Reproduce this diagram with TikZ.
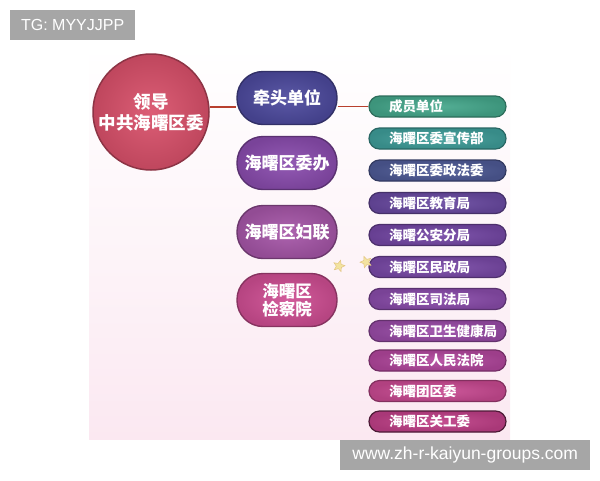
\documentclass[tikz,border=0pt]{standalone}
\usepackage{fontspec}
\setmainfont{Liberation Sans}
\newfontfamily\cjk{Noto Sans CJK SC}
\usetikzlibrary{shapes.geometric}
\definecolor{cCircle}{HTML}{D9506A}
\definecolor{cLead}{HTML}{4D4A9E}
\definecolor{cOffice}{HTML}{8A4CAE}
\definecolor{cWomen}{HTML}{A656A8}
\definecolor{cProc}{HTML}{CF4E93}
\definecolor{cLine}{HTML}{B8402E}
\definecolor{cPanel}{HTML}{FBE8F1}
\definecolor{cGrey}{HTML}{A6A6A6}
\definecolor{rA}{HTML}{45A88C}
\definecolor{rB}{HTML}{3F9E9A}
\definecolor{rC}{HTML}{4E5A96}
\definecolor{rD}{HTML}{6A4AA2}
\definecolor{rE}{HTML}{7548A6}
\definecolor{rF}{HTML}{7A4AA8}
\definecolor{rG}{HTML}{8A4CAB}
\definecolor{rH}{HTML}{9A4CA8}
\definecolor{rI}{HTML}{B2479D}
\definecolor{rJ}{HTML}{C94A92}
\definecolor{rK}{HTML}{C04088}
\definecolor{cStar}{HTML}{F3E3A0}
\tikzset{
  bigpill/.style={rectangle, rounded corners=26pt, minimum width=100pt, minimum height=53pt,
    inner sep=0pt, inner color=#1!92!white, outer color=#1!88!black, draw=#1!65!black, line width=1.4pt, text=white,
    font=\cjk\bfseries\fontsize{17}{19}\selectfont, align=center},
  smallpill/.style={rectangle, rounded corners=10.5pt, minimum width=137pt, minimum height=21pt,
    inner xsep=20pt, inner ysep=0pt, inner color=#1!92!white, outer color=#1!88!black, draw=#1!65!black, line width=1.2pt, text=white,
    font=\cjk\bfseries\fontsize{13.5}{15}\selectfont},
  conn/.style={draw=cLine, line width=1.5pt},
  tagbox/.style={rectangle, fill=cGrey, text=white, inner sep=0pt, anchor=north west},
  deco/.style={star, star points=5, star point ratio=2.2, fill=cStar, draw=cStar!70!brown, line width=0.5pt, minimum size=12pt, inner sep=0pt}
}
\newcommand{\rl}[1]{\makebox[97pt][l]{#1}}
\begin{document}
\begin{tikzpicture}[x=1pt,y=-1pt]
\useasboundingbox (0,0) rectangle (600,480);
\fill[white] (0,0) rectangle (600,480);
% panel
\shade[top color=white, bottom color=cPanel, middle color=cPanel!45] (89,45) rectangle (510,439);
% tags
\node[tagbox, minimum width=125pt, minimum height=30pt, font=\fontsize{16}{18}\selectfont] (tg) at (10,10) {TG: MYYJJPP};
\node[tagbox, minimum width=250pt, minimum height=30pt, font=\fontsize{17.5}{19}\selectfont] (url) at (340,440) {www.zh-r-kaiyun-groups.com};
% circle
\node[circle, minimum size=116pt, inner sep=0pt, inner color=cCircle!92!white, outer color=cCircle!88!black, draw=cCircle!65!black, line width=1.5pt,
  text=white, font=\cjk\bfseries\fontsize{17.5}{21}\selectfont, align=center] (lead) at (151,112) {领导\\中共海曙区委};
% left pills
\node[bigpill=cLead] (qt) at (287,98) {牵头单位};
\node[bigpill=cOffice] (wb) at (287,163) {海曙区委办};
\node[bigpill=cWomen] (fl) at (287,232) {海曙区妇联};
\node[bigpill=cProc, font=\cjk\bfseries\fontsize{16.5}{18.5}\selectfont] (jc) at (287,300) {海曙区\\检察院};
% right pills
\node[smallpill=rA] (r1) at (437.5,106.5) {\rl{成员单位}};
\node[smallpill=rB] (r2) at (437.5,138.5) {\rl{海曙区委宣传部}};
\node[smallpill=rC] (r3) at (437.5,170.5) {\rl{海曙区委政法委}};
\node[smallpill=rD] (r4) at (437.5,203) {\rl{海曙区教育局}};
\node[smallpill=rE] (r5) at (437.5,235) {\rl{海曙公安分局}};
\node[smallpill=rF] (r6) at (437.5,267) {\rl{海曙区民政局}};
\node[smallpill=rG] (r7) at (437.5,299) {\rl{海曙区司法局}};
\node[smallpill=rH] (r8) at (437.5,331) {\rl{海曙区卫生健康局}};
\node[smallpill=rI] (r9) at (437.5,360.5) {\rl{海曙区人民法院}};
\node[smallpill=rJ] (r10) at (437.5,391) {\rl{海曙团区委}};
\node[smallpill=rK, draw=rK!40!black] (r11) at (437.5,421.5) {\rl{海曙区关工委}};
% connectors
\draw[conn] (lead.east |- 0,107) -- (qt.west |- 0,107);
\draw[conn] (qt.east |- 0,106.5) -- (r1.west);
% stars
\node[deco, rotate=-15] (s1) at (339,266) {};
\node[deco, rotate=20] (s2) at (366,262) {};
\end{tikzpicture}
\end{document}
